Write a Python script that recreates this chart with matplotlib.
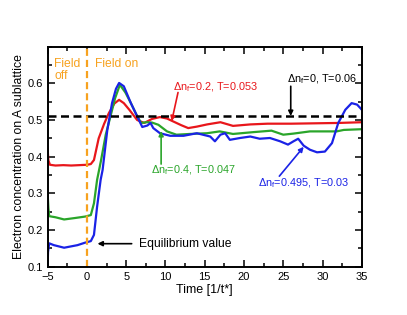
import numpy as np
import matplotlib
matplotlib.use('Agg')
import matplotlib.pyplot as plt
from matplotlib.ticker import MultipleLocator

plt.rcParams['font.family'] = ['Liberation Sans', 'DejaVu Sans']
plt.rcParams['mathtext.default'] = 'regular'

# values
red_t = [-5, -4.9, -4.7, -4, -3, -2, -1, 0, 0.5, 0.9, 1.5, 2.2, 2.8, 3.5, 4.1, 4.7, 5.4, 6.4, 7.3, 8.3, 9.3, 10.2, 11.0, 12.0, 12.9, 14.0, 15.3, 17.0, 18.6, 20.8, 23, 26, 29, 32, 35]
red_n = [0.42, 0.39, 0.378, 0.376, 0.377, 0.376, 0.377, 0.378, 0.38, 0.391, 0.45, 0.49, 0.519, 0.545, 0.555, 0.546, 0.528, 0.5, 0.492, 0.503, 0.508, 0.504, 0.496, 0.486, 0.478, 0.482, 0.488, 0.494, 0.484, 0.488, 0.49, 0.49, 0.491, 0.492, 0.494]

green_t = [-5, -4.9, -4.8, -4, -2.9, -1.5, -0.2, 0.5, 0.9, 1.3, 1.8, 2.4, 3.0, 3.6, 4.2, 4.9, 5.6, 6.3, 6.9, 7.6, 8.3, 9.1, 10.2, 11.4, 13.1, 15.3, 16.9, 18.6, 21.2, 23.5, 25.0, 26.3, 28.4, 30.5, 31.8, 32.7, 35]
green_n = [0.3, 0.26, 0.238, 0.235, 0.229, 0.233, 0.237, 0.241, 0.273, 0.337, 0.39, 0.46, 0.51, 0.56, 0.596, 0.575, 0.546, 0.515, 0.492, 0.494, 0.493, 0.487, 0.469, 0.46, 0.462, 0.464, 0.469, 0.462, 0.467, 0.471, 0.46, 0.463, 0.469, 0.469, 0.469, 0.473, 0.475]

blue_t = [-5, -4.95, -4.8, -4.2, -2.9, -1.2, -0.2, 0.5, 0.9, 1.3, 1.75, 2.0, 2.6, 3.2, 3.7, 4.1, 4.7, 5.6, 6.4, 7.05, 7.7, 8.1, 8.45, 9.3, 10.6, 12.3, 14.0, 15.7, 16.3, 17.0, 17.6, 18.2, 19.5, 20.8, 22.0, 23.3, 24.6, 25.6, 26.3, 26.9, 27.6, 28.4, 29.3, 30.3, 31.2, 32.0, 32.9, 33.7, 34.4, 35]
blue_n = [0.1, 0.14, 0.164, 0.159, 0.152, 0.159, 0.166, 0.17, 0.187, 0.264, 0.337, 0.364, 0.473, 0.546, 0.585, 0.601, 0.592, 0.546, 0.51, 0.481, 0.485, 0.492, 0.478, 0.464, 0.457, 0.457, 0.464, 0.455, 0.442, 0.46, 0.464, 0.446, 0.451, 0.455, 0.449, 0.451, 0.442, 0.433, 0.442, 0.449, 0.43, 0.419, 0.412, 0.414, 0.437, 0.492, 0.528, 0.546, 0.542, 0.528]

ref_level = 0.512

red = '#e8161b'
green = '#2aa52a'
blue = '#1a22e6'
orange = '#f7a21f'

fig = plt.figure(figsize=(4.07, 3.15), dpi=100)
ax = fig.add_axes([0.117, 0.153, 0.772, 0.699])

ax.plot(red_t, red_n, color=red, lw=1.6, solid_joinstyle='round')
ax.plot(green_t, green_n, color=green, lw=1.6, solid_joinstyle='round')
ax.plot(blue_t, blue_n, color=blue, lw=1.6, solid_joinstyle='round')
ax.axhline(ref_level, color='black', lw=1.8, ls=(0, (3.2, 1.8)))
ax.axvline(0, color=orange, lw=1.6, ls=(0, (3.2, 1.8)))

ax.set_xlim(-5, 35)
ax.set_ylim(0.1, 0.7)
ax.xaxis.set_major_locator(MultipleLocator(5))
ax.xaxis.set_minor_locator(MultipleLocator(2.5))
ax.yaxis.set_major_locator(MultipleLocator(0.1))
ax.yaxis.set_minor_locator(MultipleLocator(0.05))
ax.set_yticks([0.1, 0.2, 0.3, 0.4, 0.5, 0.6])
ax.tick_params(which='both', direction='in', top=True, right=True, width=1.1, labelsize=8)
ax.tick_params(which='major', length=5)
ax.tick_params(which='minor', length=3)
for s in ax.spines.values():
    s.set_linewidth(1.4)

ax.set_xlabel('Time [1/t*]', fontsize=9, labelpad=2)
ax.set_ylabel('Electron concentration on A sublattice', fontsize=8.8, labelpad=2)

ax.text(-4.15, 0.668, 'Field\noff', color=orange, fontsize=8.7, va='top', linespacing=0.95)
ax.text(1.0, 0.668, 'Field on', color=orange, fontsize=8.7, va='top')


def pointer(xy, xytext, col):
    ax.annotate('', xy=xy, xytext=xytext,
                arrowprops=dict(arrowstyle='-|>', color=col, lw=1.2, mutation_scale=7,
                                shrinkA=0, shrinkB=0))


lab = 7.8
ax.text(11.0, 0.589, 'Δn$_f$=0.2, T=0.053', color=red, fontsize=lab, va='center')
pointer((10.8, 0.497), (11.6, 0.575), red)

ax.text(8.1, 0.364, 'Δn$_f$=0.4, T=0.047', color=green, fontsize=lab, va='center')
pointer((9.45, 0.47), (9.45, 0.38), green)

ax.text(25.5, 0.61, 'Δn$_f$=0, T=0.06', color='black', fontsize=lab, va='center')
pointer((25.95, 0.511), (25.95, 0.592), 'black')

ax.text(21.8, 0.327, 'Δn$_f$=0.495, T=0.03', color=blue, fontsize=lab, va='center')
pointer((27.6, 0.427), (24.5, 0.347), blue)

ax.text(6.6, 0.163, 'Equilibrium value', color='black', fontsize=8.7, va='center')
pointer((1.35, 0.163), (5.7, 0.163), 'black')

fig.savefig('out.png', dpi=100)
